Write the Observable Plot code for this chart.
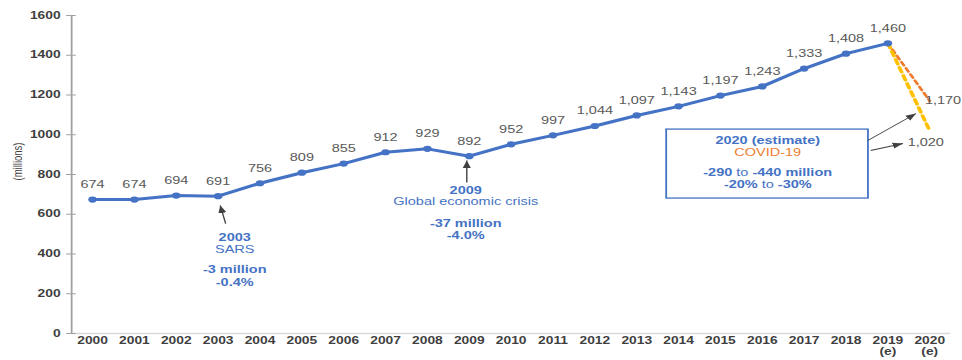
<!DOCTYPE html>
<html>
<head>
<meta charset="utf-8">
<script src="https://cdn.jsdelivr.net/npm/d3@7"></script>
<script src="https://cdn.jsdelivr.net/npm/@observablehq/plot@0.6"></script>
<style>
  body { margin: 0; background: #fff; }
  #chart svg { display: block; }
</style>
</head>
<body>
<div id="chart"></div>
<script>
// ---- data ----
const years = [2000, 2001, 2002, 2003, 2004, 2005, 2006, 2007, 2008, 2009, 2010, 2011, 2012, 2013, 2014, 2015, 2016, 2017, 2018, 2019];
const arrivals = [674, 674, 694, 691, 756, 809, 855, 912, 929, 892, 952, 997, 1044, 1097, 1143, 1197, 1243, 1333, 1408, 1460];
const tickYears = [2000, 2001, 2002, 2003, 2004, 2005, 2006, 2007, 2008, 2009, 2010, 2011, 2012, 2013, 2014, 2015, 2016, 2017, 2018, 2019, 2020];
const tickLabels = ["2000", "2001", "2002", "2003", "2004", "2005", "2006", "2007", "2008", "2009", "2010", "2011", "2012", "2013", "2014", "2015", "2016", "2017", "2018", "2019\n(e)", "2020\n(e)"];
const yTicks = [0, 200, 400, 600, 800, 1000, 1200, 1400, 1600];
const scenarioYears = [2019, 2020];
const scenarioHigh = [1460, 1170];
const scenarioLow = [1460, 1020];
const scenarioLabels = ["1,170", "1,020"];
const crisisYears = [2003, 2009];
const crisisValues = [691, 892];
const crisisTitles = ["2003", "2009"];
const crisisNames = ["SARS", "Global economic crisis"];
const crisisLoss = ["-3 million", "-37 million"];
const crisisPct = ["-0.4%", "-4.0%"];

// ---- annotation layout (data units) ----
const xDomain = [1999.5, 2020.5];
const crisisArrows = [
  {x1: 2003.18, y1: 553, x2: 2003.05, y2: 644},
  {x1: 2008.94, y1: 760, x2: 2008.94, y2: 870}
];
const box = {x1: 2013.72, x2: 2018.54, y1: 679, y2: 1026};
const boxArrows = [
  {x1: 2018.52, y1: 971, x2: 2019.67, y2: 1107},
  {x1: 2018.59, y1: 921, x2: 2019.36, y2: 956}
];

const BLUE = "#4472C4", ORANGE = "#ED7D31", YELLOW = "#FFC000", GRAY = "#595959", AXIS = "#3f3f3f";
const FS = 10.5;
const W = 697, H = 360;

const rows = years.map((year, i) => ({year, value: arrivals[i]}));
const high = scenarioYears.map((year, i) => ({year, value: scenarioHigh[i]}));
const low = scenarioYears.map((year, i) => ({year, value: scenarioLow[i]}));
const fmt = d3.format(",");
const boxMid = (box.x1 + box.x2) / 2;

function headMarker(color, context) {
  const ns = "http://www.w3.org/2000/svg";
  const m = context.document.createElementNS(ns, "marker");
  m.setAttribute("viewBox", "-10 -5 10 10");
  m.setAttribute("markerWidth", 7.5);
  m.setAttribute("markerHeight", 7.5);
  m.setAttribute("markerUnits", "userSpaceOnUse");
  m.setAttribute("orient", "auto");
  m.setAttribute("refX", 0);
  m.setAttribute("refY", 0);
  const p = context.document.createElementNS(ns, "path");
  p.setAttribute("d", "M-10,-4L0,0L-10,4Z");
  p.setAttribute("fill", color);
  p.setAttribute("stroke", "none");
  m.appendChild(p);
  return m;
}

function crisisMarks(i, dx, dys) {
  const pt = [{x: crisisYears[i], y: crisisValues[i]}];
  const base = {x: "x", y: "y", dx, fontSize: FS, fill: BLUE};
  return [
    Plot.text(pt, {...base, text: () => crisisTitles[i], dy: dys[0], fontWeight: "bold"}),
    Plot.text(pt, {...base, text: () => crisisNames[i], dy: dys[1]}),
    Plot.text(pt, {...base, text: () => crisisLoss[i], dy: dys[2], fontWeight: "bold"}),
    Plot.text(pt, {...base, text: () => crisisPct[i], dy: dys[3], fontWeight: "bold"})
  ];
}

function build(marker) {
  const top = [{x: boxMid, y: box.y2}];
  const bt = {x: "x", y: "y", fontSize: FS, fill: BLUE};
  return Plot.plot({
    width: W,
    height: H,
    marginLeft: 51.4,
    marginRight: 8.7,
    marginTop: 15,
    marginBottom: 27,
    style: {fontFamily: "'Liberation Sans', Arial, sans-serif", background: "#fff"},
    x: {type: "linear", domain: xDomain},
    y: {domain: [0, 1600]},
    marks: [
      Plot.ruleY([0], {stroke: "#d9d9d9", strokeWidth: 1.6}),
      Plot.ruleX([xDomain[0]], {stroke: "#a0a0a0", strokeWidth: 1.3}),
      Plot.axisY({ticks: yTicks, tickSize: 7, dx: 3.5, tickFormat: () => "", stroke: "#a0a0a0", label: null}),
      Plot.axisY({ticks: yTicks, tickSize: 0, tickPadding: 8, tickFormat: d3.format("d"), fontSize: 10, fontWeight: "bold", fill: AXIS, label: null}),
      Plot.axisX({ticks: tickYears, tickFormat: d => tickLabels[tickYears.indexOf(d)], tickSize: 0, tickPadding: 3.5, fontSize: 10, fontWeight: "bold", fill: AXIS, lineHeight: 1.05, label: null}),
      Plot.text(["(millions)"], {frameAnchor: "left", rotate: -90, dx: -39, dy: 6, fontSize: 9.5, fill: AXIS}),
      // scenario dashed lines
      Plot.line(high, {x: "year", y: "value", stroke: ORANGE, strokeWidth: 2.2, strokeDasharray: "4,3"}),
      Plot.line(low, {x: "year", y: "value", stroke: YELLOW, strokeWidth: 2.8, strokeDasharray: "5,3.5"}),
      // main series
      Plot.line(rows, {x: "year", y: "value", stroke: BLUE, strokeWidth: 3}),
      Plot.dot(rows, {x: "year", y: "value", r: 3.1, fill: BLUE}),
      Plot.text(rows, {x: "year", y: "value", text: d => fmt(d.value), dy: -15, fontSize: FS, fill: GRAY}),
      // scenario labels
      Plot.text([{x: 2020, y: scenarioHigh[1], t: scenarioLabels[0]}], {x: "x", y: "y", text: "t", textAnchor: "start", dx: -3.5, fontSize: FS, fill: GRAY}),
      Plot.text([{x: 2020, y: scenarioLow[1], t: scenarioLabels[1]}], {x: "x", y: "y", text: "t", textAnchor: "start", dx: -16, dy: 12, fontSize: FS, fill: GRAY}),
      // crisis annotations
      Plot.link(crisisArrows, {x1: "x1", y1: "y1", x2: "x2", y2: "y2", stroke: "#404040", strokeWidth: 1, markerEnd: marker}),
      ...crisisMarks(0, 12, [41.3, 53.3, 73.3, 86.3]),
      ...crisisMarks(1, -2.6, [34.3, 45.3, 67.3, 79.3]),
      // 2020 box
      Plot.rect([box], {x1: "x1", x2: "x2", y1: "y1", y2: "y2", fill: "#fff", stroke: BLUE, strokeWidth: 1.3}),
      Plot.link(boxArrows, {x1: "x1", y1: "y1", x2: "x2", y2: "y2", stroke: "#404040", strokeWidth: 0.9, markerEnd: marker}),
      Plot.text(top, {...bt, text: () => "2020 (estimate)", dy: 11, fontWeight: "bold"}),
      Plot.text(top, {...bt, text: () => "COVID-19", dy: 23, fill: ORANGE}),
      Plot.text(top, {...bt, text: () => "-290", dy: 43, dx: -25.7, textAnchor: "end", fontWeight: "bold"}),
      Plot.text(top, {...bt, text: () => "to", dy: 43, dx: -18.4}),
      Plot.text(top, {...bt, text: () => "-440 million", dy: 43, dx: -11.1, textAnchor: "start", fontWeight: "bold"}),
      Plot.text(top, {...bt, text: () => "-20%", dy: 55, dx: -7.3, textAnchor: "end", fontWeight: "bold"}),
      Plot.text(top, {...bt, text: () => "to", dy: 55}),
      Plot.text(top, {...bt, text: () => "-30%", dy: 55, dx: 7.3, textAnchor: "start", fontWeight: "bold"})
    ]
  });
}

let chart;
try { chart = build(headMarker); } catch (e) { chart = build("arrow"); }
chart.setAttribute("width", 962);
chart.setAttribute("height", H);
chart.setAttribute("preserveAspectRatio", "none");
chart.style.width = "962px";
chart.style.height = H + "px";
chart.style.maxWidth = "none";
document.getElementById("chart").appendChild(chart);
</script>
</body>
</html>
